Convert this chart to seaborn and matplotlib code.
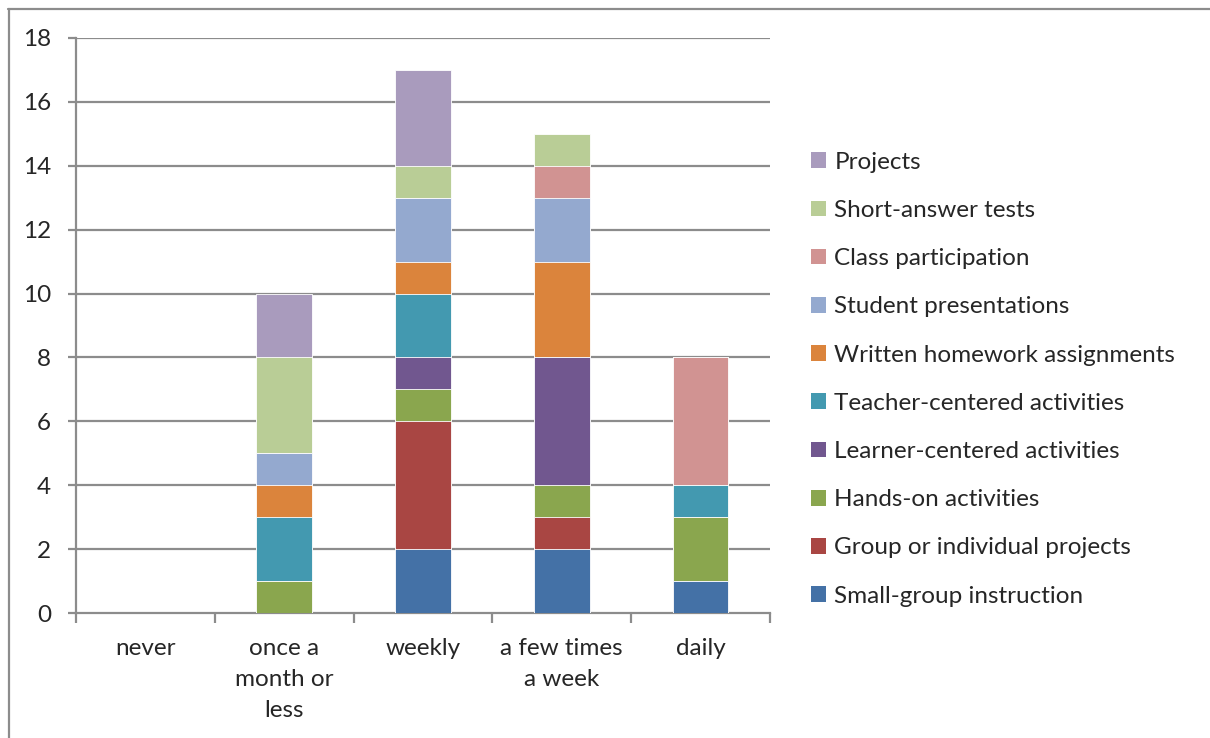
import numpy as np
import pandas as pd
import matplotlib
matplotlib.use("Agg")
import matplotlib.pyplot as plt
from matplotlib.lines import Line2D
from matplotlib.patches import Patch
import seaborn as sns

# Frequency categories on the x axis
categories = ["never", "once a\nmonth or\nless", "weekly", "a few times\na week", "daily"]

# Series, listed from the bottom of each stack upwards
series_names = [
    "Small-group instruction",
    "Group or individual projects",
    "Hands-on activities",
    "Learner-centered activities",
    "Teacher-centered activities",
    "Written homework assignments",
    "Student presentations",
    "Class participation",
    "Short-answer tests",
    "Projects",
]
small_group = [0, 0, 2, 2, 1]
group_individual = [0, 0, 4, 1, 0]
hands_on = [0, 1, 1, 1, 2]
learner_centered = [0, 0, 1, 4, 0]
teacher_centered = [0, 2, 2, 0, 1]
written_homework = [0, 1, 1, 3, 0]
student_presentations = [0, 1, 2, 2, 0]
class_participation = [0, 0, 0, 1, 4]
short_answer = [0, 3, 1, 1, 0]
projects = [0, 2, 3, 0, 0]

series_values = [small_group, group_individual, hands_on, learner_centered,
                 teacher_centered, written_homework, student_presentations,
                 class_participation, short_answer, projects]

colors = ["#4471A6", "#A94643", "#8AA64E", "#71578F", "#4399B0",
          "#DB843C", "#94A9CF", "#D19392", "#B9CD96", "#A99BBD"]

yticks = list(range(0, 19, 2))

sns.set_theme(style="white")
plt.rcParams["font.family"] = ["Lato", "DejaVu Sans"]

grid_color = "#8C8C8C"
fs = 17.5

fig = plt.figure(figsize=(12.1, 7.38), dpi=100)
ax = fig.add_axes([76 / 1210, 1 - 613 / 738, (770 - 76) / 1210, (613 - 38) / 738])

# Long table of values with running totals per category
rows = []
for name, vals in zip(series_names, series_values):
    for cat, v in zip(categories, vals):
        rows.append({"category": cat, "series": name, "value": v})
df = pd.DataFrame(rows)
df["series"] = pd.Categorical(df["series"], categories=series_names, ordered=True)
df = df.sort_values(["category", "series"])
df["top"] = df.groupby("category", sort=False)["value"].cumsum()

# Draw cumulative bars from the top layer down so each one covers the part below
for name, color in reversed(list(zip(series_names, colors))):
    sub = df[df["series"] == name].set_index("category").loc[categories].reset_index()
    sns.barplot(data=sub, x="category", y="top", order=categories, color=color,
                width=0.4, saturation=1, edgecolor="#FFFFFF", linewidth=0.6,
                ax=ax, zorder=3)

ax.set_xlim(-0.5, 4.5)
ax.set_ylim(0, 18)
ax.set_yticks(yticks)
ax.set_yticklabels([str(t) for t in yticks])
ax.set_xlabel("")
ax.set_ylabel("")

for y in yticks[1:]:
    ax.axhline(y, color=grid_color, lw=1.6, zorder=1)

for side in ["top", "right"]:
    ax.spines[side].set_visible(False)
for side in ["left", "bottom"]:
    ax.spines[side].set_color(grid_color)
    ax.spines[side].set_linewidth(1.6)

ax.tick_params(axis="y", direction="out", length=6, width=1.6, color=grid_color,
               labelsize=fs, pad=12, left=True)
ax.tick_params(axis="x", which="major", length=0, labelsize=fs, pad=18)
ax.set_xticks(np.arange(-0.5, 5.0, 1.0), minor=True)
ax.tick_params(axis="x", which="minor", direction="out", length=7, width=1.6,
               color=grid_color, bottom=True)
for lbl in ax.get_xticklabels():
    lbl.set_linespacing(1.6)
    lbl.set_verticalalignment("top")

# Legend, top entry first
handles = [Patch(facecolor=c, edgecolor="none") for c in reversed(colors)]
fig.legend(handles, list(reversed(series_names)), loc="upper left",
           bbox_to_anchor=(801 / 1210, 1 - 142 / 738), frameon=False,
           fontsize=fs, handlelength=0.62, handleheight=0.62, handletextpad=0.35,
           labelspacing=1.12, borderaxespad=0)

# Outer chart border (top and left edges)
fig.add_artist(Line2D([8 / 1210, 1.0], [1 - 8.5 / 738, 1 - 8.5 / 738],
                      color=grid_color, lw=1.6, transform=fig.transFigure))
fig.add_artist(Line2D([8.5 / 1210, 8.5 / 1210], [0.0, 1 - 8.5 / 738],
                      color=grid_color, lw=1.6, transform=fig.transFigure))

fig.savefig("out.png", dpi=100, facecolor="white")
